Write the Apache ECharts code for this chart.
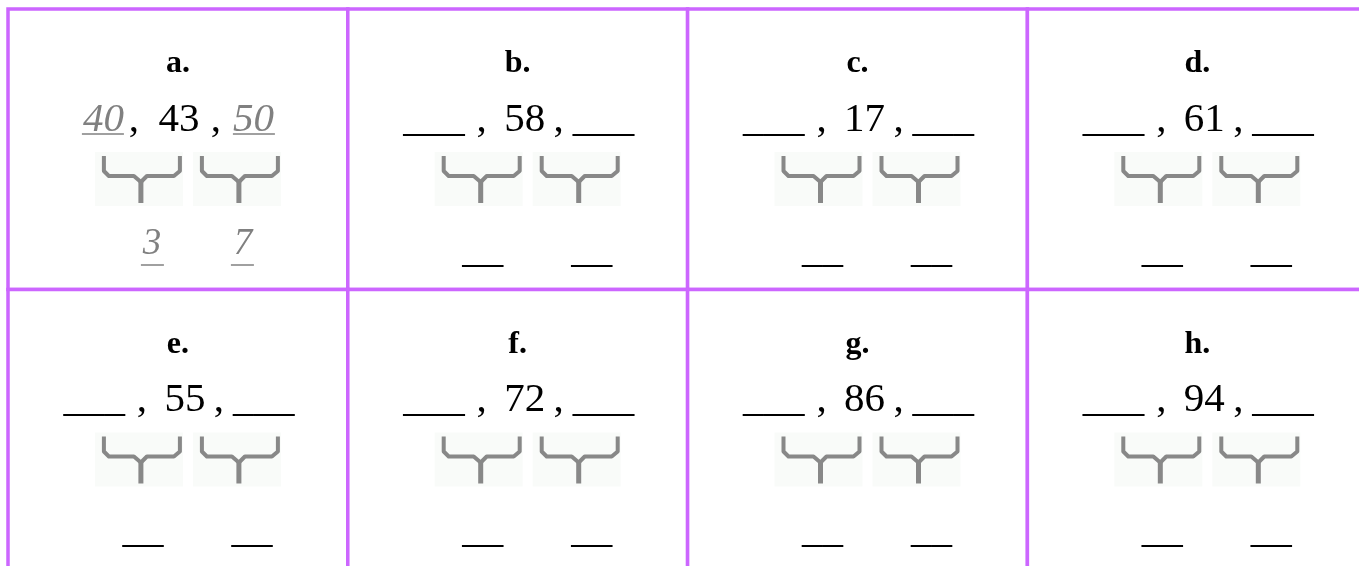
<!DOCTYPE html>
<html>
<head>
<meta charset="utf-8">
<script src="https://cdn.jsdelivr.net/npm/echarts@6/dist/echarts.min.js"></script>
<style>
  html, body { margin: 0; padding: 0; background: #fff; }
  #main { width: 1359px; height: 566px; }
</style>
</head>
<body>
<div id="main"></div>
<script>
// worksheet cells, read left to right, top to bottom
const letters = ['a.', 'b.', 'c.', 'd.', 'e.', 'f.', 'g.', 'h.']
const middles = ['43', '58', '17', '61', '55', '72', '86', '94']
// only the worked example (a) is filled in, the rest are blanks
const lowerTens = ['40', '', '', '', '', '', '', '']
const upperTens = ['50', '', '', '', '', '', '', '']
const gapsDown = ['3', '', '', '', '', '', '', '']
const gapsUp = ['7', '', '', '', '', '', '', '']

const COLS = 4
const serif = "'Liberation Serif', 'Times New Roman', serif"
const border = '#cc66ff'
const grey = '#888888'
const answerGrey = '#808080'

const cells = letters.map((l, i) => [i % COLS, Math.floor(i / COLS), i])

const text = (t, x, y, font, fill, align) => ({
  type: 'text',
  style: { text: t, x, y, font, fill: fill || '#000', textAlign: align || 'center', textVerticalAlign: 'middle' }
})

const line = (x1, y1, x2, y2, color, w) => ({
  type: 'line',
  shape: { x1, y1, x2, y2 },
  style: { stroke: color, lineWidth: w }
})

const bracket = (bx, by) => ({
  type: 'group',
  children: [
    { type: 'rect', shape: { x: bx, y: by, width: 88, height: 54 }, style: { fill: '#f9fbf9' } },
    {
      type: 'polyline',
      shape: { points: [[9, 4], [9, 19], [14, 24], [39, 24], [46, 30], [52, 24], [79, 24], [85, 19], [85, 4]].map(p => [bx + p[0], by + p[1]]) },
      style: { stroke: grey, lineWidth: 4, fill: null, lineJoin: 'round' }
    },
    line(bx + 46, by + 28, bx + 46, by + 51, grey, 5)
  ]
})

const renderCell = (params, api) => {
  const i = api.value(2)
  const tl = api.coord([api.value(0), api.value(1)])
  const br = api.coord([api.value(0) + 1, api.value(1) + 1])
  const cx = (tl[0] + br[0]) / 2
  const ry = tl[1]
  const numFont = `41px ${serif}`
  const exFont = `italic 41px ${serif}`
  const filled = !!lowerTens[i]
  const kids = []

  kids.push({
    type: 'rect',
    shape: { x: tl[0], y: tl[1], width: br[0] - tl[0], height: br[1] - tl[1] },
    style: { fill: '#fff', stroke: border, lineWidth: 3.5 }
  })

  kids.push(text(letters[i], cx, ry + 55, `bold 32px ${serif}`))

  // number row: left , middle , right
  const numY = ry + 111
  if (filled) {
    kids.push(text(lowerTens[i], cx - 54, numY, exFont, answerGrey, 'right'))
    kids.push(line(cx - 96, ry + 125, cx - 54, ry + 125, answerGrey, 1.5))
  } else {
    kids.push(text('___', cx - 53, numY, numFont, '#000', 'right'))
  }
  kids.push(text(',', cx + (filled ? -44 : -36), numY, numFont))
  kids.push(text(middles[i], cx + (filled ? 1 : 7), numY, numFont))
  kids.push(text(',', cx + (filled ? 38 : 41), numY, numFont))
  if (upperTens[i]) {
    kids.push(text(upperTens[i], cx + 55, numY, exFont, answerGrey, 'left'))
    kids.push(line(cx + 55, ry + 125, cx + 97, ry + 125, answerGrey, 1.5))
  } else {
    kids.push(text('___', cx + 55, numY, numFont, '#000', 'left'))
  }

  kids.push(bracket(cx - 83, ry + 143))
  kids.push(bracket(cx + 15, ry + 143))

  // differences under the brackets
  if (gapsDown[i]) {
    kids.push(text(gapsDown[i], cx - 26, ry + 235, `italic 37px ${serif}`, answerGrey))
    kids.push(line(cx - 37, ry + 256, cx - 14, ry + 256, answerGrey, 1.5))
  } else {
    kids.push(text('__', cx - 35, ry + 242, numFont))
  }
  if (gapsUp[i]) {
    kids.push(text(gapsUp[i], cx + 65, ry + 235, `italic 37px ${serif}`, answerGrey))
    kids.push(line(cx + 53, ry + 256, cx + 76, ry + 256, answerGrey, 1.5))
  } else {
    kids.push(text('__', cx + 74, ry + 242, numFont))
  }

  return { type: 'group', children: kids }
}

const chart = echarts.init(document.getElementById('main'))
chart.setOption({
  animation: false,
  backgroundColor: '#fff',
  grid: { left: 8, top: 9, width: 1359.2, height: 561, outerBoundsMode: 'none' },
  xAxis: { type: 'value', min: 0, max: COLS, show: false },
  yAxis: { type: 'value', min: 0, max: 2, inverse: true, show: false },
  series: [{
    type: 'custom',
    renderItem: renderCell,
    data: cells,
    clip: false,
    silent: true
  }]
})
</script>
</body>
</html>
